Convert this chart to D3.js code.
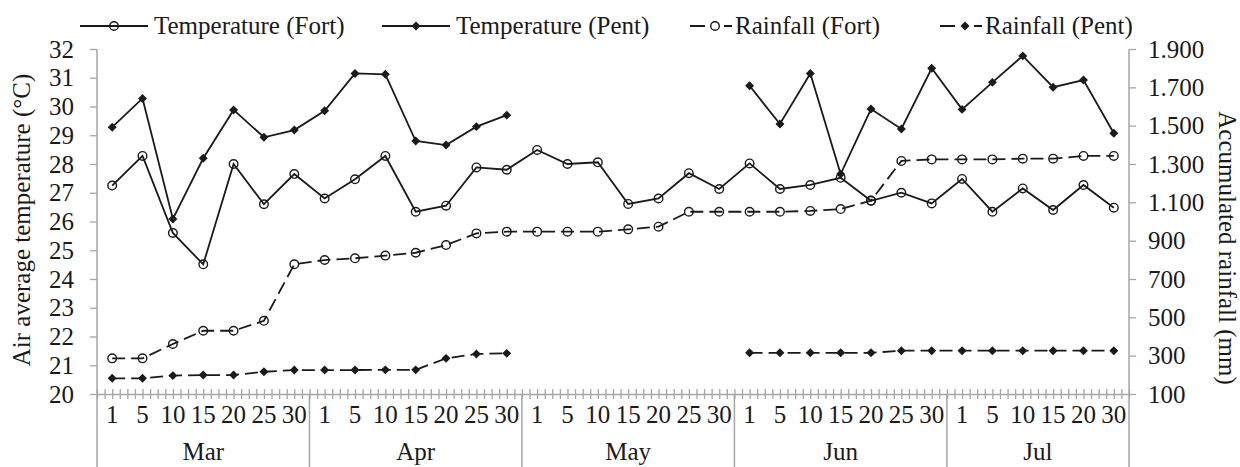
<!DOCTYPE html>
<meta charset="utf-8">
<style>
  body { margin: 0; background: #fff; }
  text { font-family: "Liberation Serif", "DejaVu Serif", serif; fill: #1a1a1a; }
</style>
<svg id="chart" width="1240" height="467"></svg>
<script src="https://d3js.org/d3.v7.min.js"></script>
<script>

// months and the day labels under each of them
var months = ["Mar", "Apr", "May", "Jun", "Jul"];
var daysMar = [1, 5, 10, 15, 20, 25, 30];
var daysApr = [1, 5, 10, 15, 20, 25, 30];
var daysMay = [1, 5, 10, 15, 20, 25, 30];
var daysJun = [1, 5, 10, 15, 20, 25, 30];
var daysJul = [1, 5, 10, 15, 20, 30];

// air average temperature (°C)
var tempFort = [27.25, 28.28, 25.6, 24.51, 28.0, 26.6, 27.65,
                26.8, 27.47, 28.28, 26.34, 26.55, 27.88, 27.8,
                28.49, 28.0, 28.06, 26.61, 26.8, 27.68, 27.13,
                28.02, 27.13, 27.27, 27.52, 26.72, 27.0, 26.63,
                27.48, 26.34, 27.15, 26.4, 27.27, 26.48];
var tempPent = [29.28, 30.28, 26.09, 28.2, 29.88, 28.93, 29.18,
                29.85, 31.15, 31.12, 28.8, 28.66, 29.3, 29.7,
                null, null, null, null, null, null, null,
                30.72, 29.39, 31.15, 27.65, 29.91, 29.22, 31.33,
                29.9, 30.84, 31.76, 30.67, 30.92, 29.07];

// accumulated rainfall (mm)
var rainFort = [286, 286, 361, 430, 430, 482, 777,
                799, 808, 822, 837, 877, 938, 947,
                947, 947, 947, 959, 973, 1051, 1051,
                1051, 1051, 1055, 1065, 1109, 1316, 1324,
                1324, 1324, 1328, 1328, 1342, 1342];
var rainPent = [182, 182, 196, 199, 199, 216, 225,
                225, 225, 226, 226, 286, 309, 312,
                null, null, null, null, null, null, null,
                315, 315, 315, 315, 315, 326, 326,
                326, 326, 326, 326, 326, 326];

var tempTicks = d3.range(20, 33, 1);
var rainTicks = d3.range(100, 2000, 200);

var dayGroups = [daysMar, daysApr, daysMay, daysJun, daysJul];
var cats = [];
dayGroups.forEach(function(g, m) {
  g.forEach(function(d) { cats.push({ month: months[m], day: d }); });
});
var n = cats.length;

var plotL = 97, plotR = 1129, plotT = 49, plotB = 394;
var grey = "#a6a6a6";
var ink = "#1a1a1a";
var fs = "25px";

var svg = d3.select("#chart");

var x = d3.scaleLinear().domain([0, n]).range([plotL, plotR]);
var yT = d3.scaleLinear().domain([20, 32]).range([plotB, plotT]);
var yR = d3.scaleLinear().domain([100, 1900]).range([plotB, plotT]);

// left axis
var ax = svg.append("g").attr("transform", "translate(" + plotL + ",0)")
  .call(d3.axisLeft(yT).tickValues(tempTicks).tickSize(7).tickSizeOuter(0).tickPadding(16));
ax.select(".domain").remove();
ax.selectAll("line").attr("stroke", grey).attr("stroke-width", 1.3);
ax.selectAll("text").style("font-size", fs).attr("fill", ink);

// right axis
var ar = svg.append("g").attr("transform", "translate(" + plotR + ",0)")
  .call(d3.axisRight(yR).tickValues(rainTicks).tickSize(7).tickSizeOuter(0).tickPadding(12)
    .tickFormat(function(d) { return d3.format(",")(d).replace(",", "."); }));
ar.select(".domain").remove();
ar.selectAll("line").attr("stroke", grey).attr("stroke-width", 1.3);
ar.selectAll("text").style("font-size", fs).attr("fill", ink);

// bottom axis with small ticks crossing it
var ab = svg.append("g").attr("transform", "translate(0," + plotB + ")")
  .call(d3.axisBottom(x).tickValues(d3.range(0, n + 0.01, 0.25)).tickFormat("").tickSizeOuter(0));
ab.select(".domain").attr("stroke", grey).attr("stroke-width", 1.3);
ab.selectAll(".tick line").attr("y1", -5).attr("y2", 5).attr("stroke", grey).attr("stroke-width", 1.3);

// vertical frame lines and month separators
var seps = [0, 7, 14, 21, 28, n];
svg.selectAll(".sep").data(seps).enter().append("line")
  .attr("class", "sep")
  .attr("x1", function(d) { return x(d); }).attr("x2", function(d) { return x(d); })
  .attr("y1", function(d) { return (d == 0 || d == n) ? plotT : plotB; })
  .attr("y2", 467)
  .attr("stroke", grey).attr("stroke-width", 1.5);

svg.selectAll(".day").data(cats).enter().append("text")
  .attr("class", "day")
  .attr("x", function(d, i) { return x(i + 0.5); })
  .attr("y", 423)
  .attr("text-anchor", "middle")
  .style("font-size", fs)
  .text(function(d) { return d.day; });

svg.selectAll(".mon").data(months).enter().append("text")
  .attr("class", "mon")
  .attr("x", function(d, i) { return (x(seps[i]) + x(seps[i + 1])) / 2; })
  .attr("y", 460)
  .attr("text-anchor", "middle")
  .style("font-size", fs)
  .text(function(d) { return d; });

// axis titles
svg.append("text")
  .attr("transform", "translate(30,220) rotate(-90)")
  .attr("text-anchor", "middle").style("font-size", fs)
  .text("Air average temperature (°C)");
svg.append("text")
  .attr("transform", "translate(1219,248) rotate(90)")
  .attr("text-anchor", "middle").style("font-size", fs)
  .text("Accumulated rainfall (mm)");

// series
var series = [
  { name: "Temperature (Fort)", data: tempFort, y: yT, dash: null, mark: "circle" },
  { name: "Temperature (Pent)", data: tempPent, y: yT, dash: null, mark: "diamond" },
  { name: "Rainfall (Fort)", data: rainFort, y: yR, dash: "13,6", mark: "circle" },
  { name: "Rainfall (Pent)", data: rainPent, y: yR, dash: "13,6", mark: "diamond" }
];

var diamond = d3.symbol().type(d3.symbolSquare).size(40);

function drawMarker(g, mark, cx, cy) {
  if (mark == "circle") {
    g.append("circle").attr("cx", cx).attr("cy", cy).attr("r", 4.3)
      .attr("fill", "none").attr("stroke", ink).attr("stroke-width", 1.4);
  } else {
    g.append("path").attr("d", diamond())
      .attr("transform", "translate(" + cx + "," + cy + ") rotate(45)")
      .attr("fill", ink);
  }
}

series.forEach(function(s) {
  var line = d3.line()
    .defined(function(d) { return d != null; })
    .x(function(d, i) { return x(i + 0.5); })
    .y(function(d) { return s.y(d); });
  svg.append("path").datum(s.data)
    .attr("d", line)
    .attr("fill", "none")
    .attr("stroke", ink)
    .attr("stroke-width", 1.8)
    .attr("stroke-dasharray", s.dash);
  var g = svg.append("g");
  s.data.forEach(function(d, i) {
    if (d != null) drawMarker(g, s.mark, x(i + 0.5), s.y(d));
  });
});

// legend
var legX = [80, 382, 690, 940];
var ly = 26;
series.forEach(function(s, i) {
  var g = svg.append("g").attr("transform", "translate(" + legX[i] + "," + ly + ")");
  if (s.dash) {
    g.append("line").attr("x1", 0).attr("x2", 15).attr("stroke", ink).attr("stroke-width", 2);
    g.append("line").attr("x1", 34).attr("x2", 42).attr("stroke", ink).attr("stroke-width", 2);
    drawMarker(g, s.mark, 25, 0);
    g.append("text").attr("x", 45).attr("y", 8).style("font-size", fs).text(s.name);
  } else {
    g.append("line").attr("x1", 0).attr("x2", 68).attr("stroke", ink).attr("stroke-width", 2);
    drawMarker(g, s.mark, 34, 0);
    g.append("text").attr("x", 74).attr("y", 8).style("font-size", fs).text(s.name);
  }
});

</script>
